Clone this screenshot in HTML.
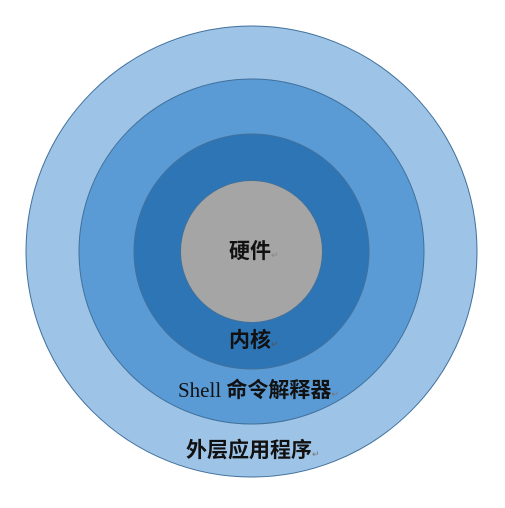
<!DOCTYPE html>
<html><head><meta charset="utf-8"><style>
html,body{margin:0;padding:0;background:#fff;width:505px;height:508px;overflow:hidden}
</style></head><body>
<svg width="505" height="508" xmlns="http://www.w3.org/2000/svg">
<circle cx="251.5" cy="251.5" r="225.5" fill="#9dc3e6" stroke="#41719c" stroke-width="1"/>
<circle cx="251.5" cy="251.5" r="172.5" fill="#5b9bd5" stroke="#41719c" stroke-width="1"/>
<circle cx="251.5" cy="251.5" r="117.5" fill="#2e75b6" stroke="#41719c" stroke-width="1"/>
<circle cx="251.5" cy="251.5" r="71" fill="#a5a5a5" stroke="#41719c" stroke-width="1"/>
<g font-family="'Liberation Serif','Noto Sans CJK SC',serif" font-size="21" fill="#111">
<text x="229" y="258" font-weight="bold">硬件<tspan font-size="9" fill="#888" font-weight="normal">↵</tspan></text>
<text x="229" y="347" font-weight="bold">内核<tspan font-size="9" fill="#555" font-weight="normal">↵</tspan></text>
<text x="178" y="397"><tspan>Shell </tspan><tspan font-weight="bold">命令解释器</tspan><tspan font-size="9" fill="#777">↵</tspan></text>
<text x="186" y="457" font-weight="bold">外层应用程序<tspan font-size="9" fill="#777" font-weight="normal">↵</tspan></text>
</g>
</svg>
</body></html>
